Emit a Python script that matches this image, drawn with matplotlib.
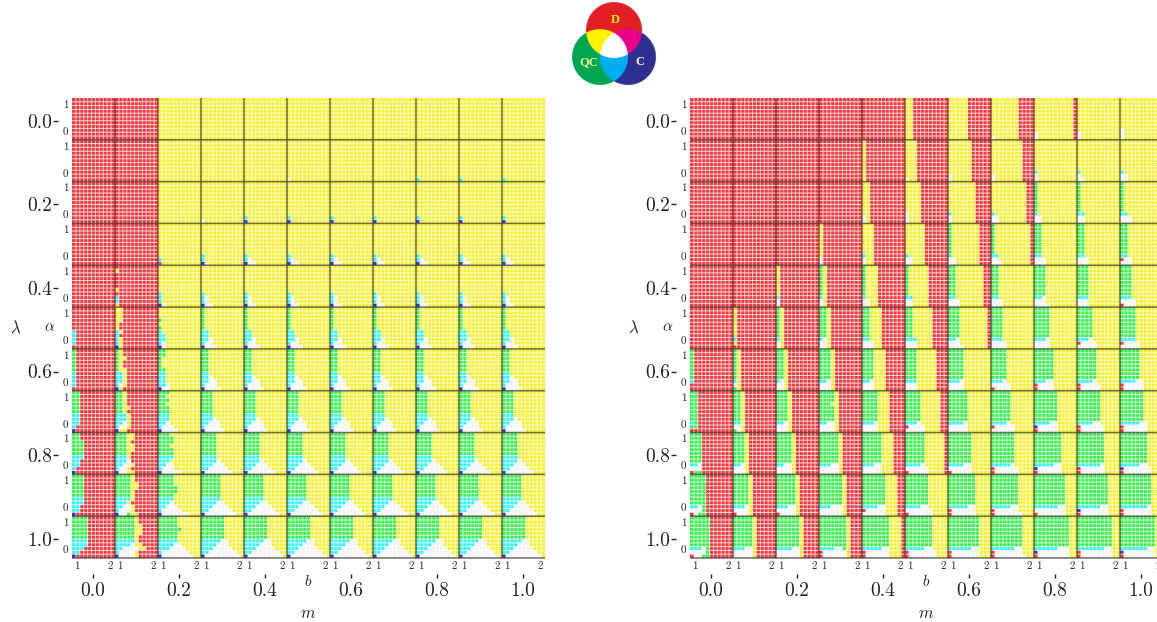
import numpy as np
import matplotlib
matplotlib.use('Agg')
import matplotlib.pyplot as plt
from matplotlib.colors import to_rgb

plt.rcParams['font.family'] = ['cmr10', 'DejaVu Sans']
plt.rcParams['mathtext.fontset'] = 'cm'
plt.rcParams['axes.unicode_minus'] = False

W, H = 1157, 622
N = 11  # panels per side, and also cells per panel side

outer_labels = ['0.0', '', '0.2', '', '0.4', '', '0.6', '', '0.8', '', '1.0']
outer_labels_y = outer_labels

colors = {'R': '#fb3238', 'Y': '#f6f02b', 'G': '#33f24a', 'C': '#2cf5f8',
          'B': '#3a30d8', 'W': '#f3f3f3', 'M': '#f030d0'}

# left grid, one string per panel, rows top to bottom, short rows pad with the fill colour
BLANK = '- - - - - - - - - - -'

left_col0 = [
    BLANK, BLANK, BLANK, BLANK, BLANK,
    '- - - - - - C C C C -',
    'G G G G G G C C C C -',
    'GG GG GG GG GG GG CC CC CC C B',
    'GG GG GGG GGG GGG GGG CCC CC CC C B',
    'GGG GGG GGG GGG GGG GGG CCC CCC CC CC B',
    'GGGG GGGG GGGG GGGG GGGG GGGG CCCC CCCC CCC CC B',
]
left_col1 = [
    BLANK, BLANK, BLANK, BLANK,
    '- Y - - - - Y - C C Y',
    'YY YY YY YY Y Y CY CR CY CY BY',
    'GY GY GYY GY GY GYY CCY CCY CCY CWY BY',
    'GGY GGY GGY GGY GGYY GGY CCCY CCCY CCWY CWWY BYYR',
    'GGGYY GGGYY GGGYR GGGYY GGGYY GGGY CCCY CCCW CCWWY CWWYR BWWYY',
    'GGGGY GGGGY GGGGYY GGGGYY GGGGY GGGGY CCCCY CCCY CCWWY CWWWYR BWWGYY',
    'GGGGGY GGGGGY GGGGGYY GGGGGYY GGGGGYY GGGGGYR CCCCCYR CCCCWYY CCWWWWYY CWWWWY BWWWWY',
]
left_col2 = [
    BLANK, BLANK, BLANK,
    '- - - - - - - - - C M',
    '- - - - - - - C C C BW',
    '- - - G - G C CC CC CW BW',
    'GG GG G G G GG CC CC CC CCW BWW',
    'GGG GG GGG GG GGG GGG CCC CCC CCW CWWW BWWWW',
    'GGG GGGG GGGG GGG GGGG GGGG CCCC CCC CCWW CWWW BWWWWW',
    'GGGG GGGG GGGG GGGGG GGGGG GGGG CCCC CCCW CCWWW CWWWWW BWWWWWWW',
    'GGGGG GGGGG GGGGG GGGGGG GGGGG GGGGG CCCCC CCCCWW CCCWWWW CWWWWWWW BWWWWWWWW',
]
left_rest = [
    BLANK, BLANK,
    '- - - - - - - - - C B',
    '- - - - - - - - C CW BWW',
    '- - - - - - - C CW CW BWW',
    'G G G G G G CC CC CCW CWW BWWW',
    'GG GG GG GG GG GG CC CCW CCWW CWWW BWWWW',
    'GGG GGG GGG GGG GGG GGG CCC CCCW CCWWW CWWWW BWWWWW',
    'GGGG GGGG GGGG GGGG GGGG GGGG CCCC CCCCW CCCWWW CCWWWWW BWWWWWWW',
    'GGGGG GGGGG GGGGG GGGGG GGGGG GGGGG CCCCC CCCCWW CCCWWWW CCWWWWWW BWWWWWWWW',
    'GGGGGG GGGGGG GGGGGG GGGGGG GGGGGG GGGGGG CCCCCWW CCCCWWW CCCWWWWW CCWWWWWWW BWWWWWWWWW',
]
# small dots that differ from left_rest: (lambda idx, m idx, row from bottom, col, code)
left_extra = [(1, 5, 0, 0, 'W'), (1, 8, 0, 0, 'C'), (1, 9, 0, 0, 'C'), (1, 10, 0, 0, 'C'),
              (2, 3, 1, 0, 'Y'), (2, 3, 0, 0, 'W'),
              (3, 3, 1, 1, 'Y'), (3, 3, 0, 2, 'Y'), (3, 3, 1, 0, 'C')]

# right grid, per panel: green columns, first red column, white corner width, cyan width
right_green = [
    [0, 0, 0, 0, 0, 0, 0, 0, 0, 0, 0],
    [0, 0, 0, 0, 0, 0, 0, 0, 0, 0, 0],
    [0, 0, 0, 0, 0, 0, 0, 0, 1, 1, 1],
    [0, 0, 0, 0, 0, 0, 1, 1, 2, 2, 2],
    [0, 0, 0, 1, 1, 1, 2, 2, 3, 3, 3],
    [0, 0, 1, 2, 2, 2, 3, 3, 4, 4, 4],
    [1, 1, 2, 3, 3, 3, 4, 4, 5, 5, 5],
    [2, 2, 3, 4, 4, 4, 5, 5, 6, 6, 6],
    [3, 3, 4, 5, 5, 5, 6, 6, 7, 7, 7],
    [4, 4, 5, 6, 6, 6, 7, 7, 8, 8, 8],
    [5, 5, 6, 7, 7, 7, 8, 8, 9, 9, 9],
]
right_red_start = [
    [0, 0, 0, 0, 0, 2, 5, 7, 10, 11, 11],
    [0, 0, 0, 0, 1, 3, 6, 8, 11, 11, 11],
    [0, 0, 0, 0, 2, 4, 7, 9, 11, 11, 11],
    [0, 0, 0, 1, 3, 5, 8, 10, 11, 11, 11],
    [0, 0, 1, 2, 4, 6, 9, 11, 11, 11, 11],
    [0, 1, 2, 3, 5, 7, 10, 11, 11, 11, 11],
    [1, 2, 3, 4, 6, 8, 11, 11, 11, 11, 11],
    [2, 3, 4, 5, 7, 9, 11, 11, 11, 11, 11],
    [3, 4, 5, 6, 8, 10, 11, 11, 11, 11, 11],
    [4, 5, 6, 7, 9, 11, 11, 11, 11, 11, 11],
    [5, 6, 7, 8, 10, 11, 11, 11, 11, 11, 11],
]
right_white = [
    [0, 0, 0, 0, 0, 0, 0, 1, 1, 1, 1],
    [0, 0, 0, 0, 0, 1, 1, 1, 1, 1, 2],
    [0, 0, 0, 0, 1, 1, 1, 2, 2, 2, 3],
    [0, 0, 0, 1, 1, 2, 2, 2, 3, 3, 3],
    [0, 0, 1, 1, 2, 2, 3, 3, 3, 3, 4],
    [0, 0, 1, 2, 3, 3, 3, 4, 4, 5, 5],
    [0, 1, 2, 3, 3, 3, 4, 5, 5, 6, 6],
    [0, 2, 3, 4, 4, 5, 5, 6, 6, 7, 7],
    [3, 3, 4, 5, 5, 6, 6, 7, 7, 7, 8],
    [3, 4, 5, 6, 6, 7, 7, 7, 8, 8, 8],
    [4, 5, 6, 7, 7, 8, 8, 8, 9, 9, 9],
]
right_cyan = [
    [0, 0, 0, 0, 0, 0, 0, 0, 0, 0, 0],
    [0, 0, 0, 0, 0, 0, 0, 0, 1, 1, 1],
    [0, 0, 0, 0, 0, 0, 1, 1, 1, 2, 2],
    [0, 0, 0, 0, 1, 1, 1, 2, 2, 2, 2],
    [0, 0, 1, 1, 1, 2, 2, 2, 2, 3, 3],
    [0, 1, 1, 1, 2, 3, 2, 3, 3, 3, 4],
    [1, 1, 1, 2, 2, 3, 3, 3, 3, 4, 4],
    [1, 2, 2, 2, 3, 3, 4, 4, 4, 4, 5],
    [2, 2, 2, 3, 3, 4, 4, 5, 5, 6, 5],
    [2, 3, 3, 3, 4, 4, 5, 5, 6, 6, 7],
    [3, 3, 4, 4, 5, 5, 6, 6, 6, 7, 7],
]
# single cells: (lambda idx, m idx, row from bottom, col)
right_red_cells = [(3, 10, 1, 0), (4, 10, 0, 0), (5, 1, 0, 0), (5, 9, 1, 0), (5, 10, 1, 0),
                   (6, 0, 0, 0), (6, 0, 1, 0), (6, 7, 0, 0), (6, 8, 0, 0), (6, 8, 1, 0),
                   (6, 9, 0, 0), (6, 9, 1, 0), (6, 10, 0, 0), (6, 10, 1, 0),
                   (7, 0, 0, 0), (7, 0, 0, 1), (7, 5, 1, 0), (7, 7, 1, 0), (7, 8, 0, 0),
                   (7, 9, 0, 0), (7, 9, 1, 0), (7, 10, 0, 0), (7, 10, 1, 0),
                   (8, 0, 0, 0), (8, 5, 0, 0), (8, 6, 0, 0), (8, 7, 0, 0), (8, 7, 1, 0),
                   (8, 8, 0, 0), (8, 9, 0, 0), (8, 9, 1, 0), (8, 10, 0, 0),
                   (9, 0, 0, 0), (9, 1, 0, 0), (9, 2, 0, 0), (9, 4, 1, 0), (9, 5, 0, 0),
                   (9, 6, 0, 0), (9, 6, 1, 0), (9, 7, 0, 0), (9, 7, 1, 0), (9, 8, 0, 0),
                   (9, 9, 0, 0), (9, 10, 0, 0), (9, 10, 1, 0),
                   (10, 0, 0, 0), (10, 3, 0, 0), (10, 3, 1, 0), (10, 4, 0, 0), (10, 4, 1, 0),
                   (10, 5, 0, 0), (10, 5, 1, 0), (10, 6, 0, 0), (10, 6, 1, 0), (10, 7, 0, 0),
                   (10, 7, 1, 0), (10, 8, 0, 0), (10, 9, 0, 0), (10, 9, 1, 0), (10, 10, 0, 0)]
right_blue_cells = [(7, 8, 1, 0), (8, 8, 1, 0), (8, 10, 1, 0), (9, 9, 1, 0), (10, 8, 1, 0), (10, 10, 1, 0)]
right_green_cells = [(6, 1, 0, 0), (7, 1, 0, 0), (8, 0, 0, 1), (8, 0, 0, 2), (9, 0, 0, 2),
                     (10, 0, 0, 3), (10, 3, 2, 6)]
right_yellow_cells = [(0, 7, 1, 0), (1, 5, 1, 0), (5, 1, 1, 0), (7, 3, 7, 3)]
right_white_cells = [(0, 10, 2, 0), (1, 9, 0, 1), (2, 5, 2, 0), (3, 7, 0, 2), (4, 8, 0, 3),
                     (5, 6, 0, 3), (6, 10, 2, 5), (7, 10, 2, 6), (9, 7, 0, 7), (10, 7, 0, 8)]


def left_image():
    img = np.zeros((N * N, N * N, 3))
    for i in range(N):
        for j in range(N):
            if j == 0:
                panel, fill = left_col0[i], 'R'
            elif j == 1:
                panel, fill = left_col1[i], 'R'
            elif j == 2:
                panel, fill = left_col2[i], 'Y'
            else:
                panel, fill = left_rest[i], 'Y'
            for r, row in enumerate(panel.split()):
                row = row.replace('-', '').ljust(N, fill)
                for c in range(N):
                    img[i * N + r, j * N + c] = to_rgb(colors[row[c]])
    for i, j, r, c, code in left_extra:
        img[i * N + N - 1 - r, j * N + c] = to_rgb(colors[code])
    return img


def right_image():
    img = np.zeros((N * N, N * N, 3))
    for i in range(N):
        for j in range(N):
            g, red, wh, cy = right_green[i][j], right_red_start[i][j], right_white[i][j], right_cyan[i][j]
            for r in range(N):
                for c in range(N):
                    code = 'G' if c < g else ('Y' if c < red else 'R')
                    if r < 2 and c < wh:
                        code = 'W'
                    if r == 2 and c < min(wh, g):
                        code = 'W'
                    if r == 2 and c < cy:
                        code = 'C'
                    img[i * N + N - 1 - r, j * N + c] = to_rgb(colors[code])
    for cells, code in [(right_red_cells, 'R'), (right_blue_cells, 'B'), (right_green_cells, 'G'),
                        (right_yellow_cells, 'Y'), (right_white_cells, 'W')]:
        for i, j, r, c in cells:
            img[i * N + N - 1 - r, j * N + c] = to_rgb(colors[code])
    return img


def draw_grid(fig, img, x0):
    y0, gw, gh = 98, 473, 460
    ax = fig.add_axes([x0 / W, 1 - (y0 + gh) / H, gw / W, gh / H])
    ax.imshow(img, extent=(0, N * N, N * N, 0), aspect='auto', interpolation='nearest')
    ax.set_xlim(0, N * N)
    ax.set_ylim(N * N, 0)
    for s in ax.spines.values():
        s.set_visible(False)

    cell_lines = [k for k in range(1, N * N) if k % N]
    ax.vlines(cell_lines, 0, N * N, color='white', lw=0.7, alpha=0.8, snap=False)
    ax.hlines(cell_lines, 0, N * N, color='white', lw=0.7, alpha=0.8, snap=False)
    panel_lines = list(range(N, N * N + 1, N))
    ax.vlines(panel_lines[:-1], 0, N * N, color='#484848', lw=1.1, alpha=0.8, snap=False)
    ax.hlines(panel_lines, 0, N * N, color='#484848', lw=1.1, alpha=0.8, clip_on=False, snap=False)

    # small 1/2 and 0/1 labels repeated in each panel
    xt, xl, yt, yl = [], [], [], []
    for k in range(N):
        xt += [k * N + 1.3, k * N + 9.7]
        xl += ['1', '2']
        yt += [k * N + 1.6, k * N + 8.7]
        yl += ['1', '0']
    ax.set_xticks(xt, xl, fontsize=8)
    ax.set_yticks(yt, yl, fontsize=8)
    ax.tick_params(length=0, pad=2.5, colors='#222222')

    # outer m and lambda axes
    sx = ax.secondary_xaxis(-16 / gh)
    sx.set_xticks([k * N + N / 2 - 0.25 for k in range(N) if k % 2 == 0],
                  [outer_labels[k] for k in range(N) if k % 2 == 0], fontsize=14)
    sx.tick_params(length=3, width=1, pad=3, color='#222222', labelcolor='#222222')
    sx.spines['bottom'].set_visible(False)
    sy = ax.secondary_yaxis(-14 / gw)
    sy.set_yticks([k * N + N / 2 + 0.45 for k in range(N) if k % 2 == 0],
                  [outer_labels_y[k] for k in range(N) if k % 2 == 0], fontsize=14)
    sy.tick_params(length=3.6, width=1, pad=0.5, color='#222222', labelcolor='#222222')
    sy.spines['left'].set_visible(False)

    fig.text((x0 + 236) / W, 1 - 613 / H, '$m$', fontsize=12, ha='center', va='center', color='#222222')
    fig.text((x0 + 236) / W, 1 - 581 / H, '$b$', fontsize=11, ha='center', va='center', color='#222222')
    fig.text((x0 - 56) / W, 1 - 328 / H, r'$\lambda$', fontsize=12, ha='center', va='center', color='#222222')
    fig.text((x0 - 22) / W, 1 - 327 / H, r'$\alpha$', fontsize=11, ha='center', va='center', color='#222222')


def draw_logo(fig):
    # three overlapping circles, in figure pixels
    x1, x2, y1, y2 = 568, 660, 0, 90
    ax = fig.add_axes([x1 / W, 1 - y2 / H, (x2 - x1) / W, (y2 - y1) / H])
    xx, yy = np.meshgrid(np.linspace(x1, x2, (x2 - x1) * 6), np.linspace(y1, y2, (y2 - y1) * 6))
    d = (xx - 614) ** 2 + (yy - 30) ** 2 < 28 ** 2
    q = (xx - 600) ** 2 + (yy - 57) ** 2 < 28 ** 2
    c = (xx - 628) ** 2 + (yy - 57) ** 2 < 28 ** 2
    img = np.ones(xx.shape + (3,))
    img[d] = to_rgb('#e21f26')
    img[q] = to_rgb('#00a651')
    img[c] = to_rgb('#2e3192')
    img[d & q] = to_rgb('#fff200')
    img[d & c] = to_rgb('#ec008c')
    img[q & c] = to_rgb('#00aeef')
    img[d & q & c] = (1, 1, 1)
    ax.imshow(img, extent=(x1, x2, y2, y1), aspect='auto', interpolation='antialiased')
    ax.axis('off')
    ax.text(615, 20, 'D', color='#fff200', fontsize=9, family='Liberation Serif', weight='bold', ha='center', va='center')
    ax.text(589, 62, 'QC', color='#f5f08c', fontsize=9, family='Liberation Serif', weight='bold', ha='center', va='center')
    ax.text(640, 62, 'C', color='#f5f5c8', fontsize=9, family='Liberation Serif', weight='bold', ha='center', va='center')


fig = plt.figure(figsize=(W / 100, H / 100), dpi=100)
draw_grid(fig, left_image(), 72)
draw_grid(fig, right_image(), 690)
draw_logo(fig)
fig.savefig('out.png', dpi=100)
